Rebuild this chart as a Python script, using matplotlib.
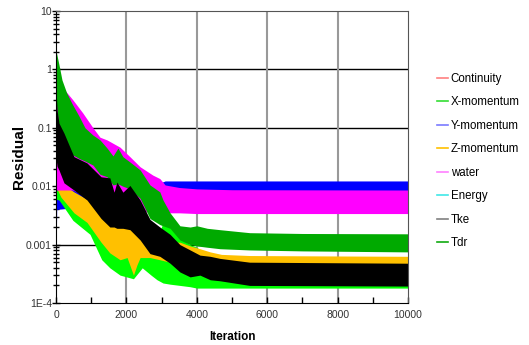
import matplotlib
matplotlib.use('Agg')
import matplotlib.pyplot as plt
from matplotlib.lines import Line2D
from matplotlib.ticker import FixedLocator, FixedFormatter, NullFormatter

# residual bands: iteration, lower and upper envelope
y_it = [0, 20, 2900, 3100, 10000]
y_lo = [0.0005, 0.004, 0.006, 0.0075, 0.0075]
y_hi = [0.02, 0.009, 0.011, 0.0123, 0.0123]

x_it = [0, 85, 480, 966, 1300, 1530, 1820, 2200, 2450, 2700, 2870, 3040,
        3240, 3520, 3810, 4000, 4500, 5500, 10000]
x_lo = [0.006, 0.0058, 0.0026, 0.0015, 0.00055, 0.0004, 0.0003, 0.00026,
        0.0004, 0.0003, 0.00025, 0.00022, 0.00021, 0.0002, 0.00019, 0.00018,
        0.00018, 0.00018, 0.00018]
x_hi = [0.009, 0.008, 0.005, 0.003, 0.0018, 0.0012, 0.0009, 0.0008, 0.0007,
        0.00075, 0.0012, 0.0024, 0.0021, 0.0013, 0.001, 0.0009, 0.0005,
        0.0004, 0.0004]

z_it = [0, 140, 510, 880, 1280, 1530, 1820, 2020, 2200, 2300, 2390, 2670,
        2950, 3240, 3520, 3810, 4090, 4380, 4700, 5500, 10000]
z_lo = [0.0097, 0.0065, 0.0035, 0.0024, 0.0011, 0.00072, 0.00055, 0.0006,
        0.0003, 0.00045, 0.0006, 0.0006, 0.00055, 0.0005, 0.00045, 0.00045,
        0.00045, 0.00045, 0.00045, 0.00045, 0.00045]
z_hi = [0.012, 0.0114, 0.008, 0.006, 0.004, 0.003, 0.0025, 0.0022, 0.0018,
        0.0016, 0.0014, 0.0011, 0.0011, 0.0011, 0.0011, 0.00095, 0.00085,
        0.00075, 0.00068, 0.00065, 0.00063]

w_it = [0, 200, 480, 760, 1050, 1250, 1450, 1820, 2100, 2390, 2750, 2950,
        3100, 3500, 4000, 5000, 10000]
w_lo = [0.0086, 0.0086, 0.0086, 0.007, 0.006, 0.0055, 0.005, 0.0045, 0.004,
        0.0037, 0.0036, 0.0035, 0.0035, 0.0035, 0.0034, 0.0034, 0.0034]
w_hi = [0.45, 0.48, 0.3, 0.18, 0.1, 0.069, 0.062, 0.0465, 0.032, 0.0215,
        0.0155, 0.0135, 0.0105, 0.0095, 0.009, 0.0087, 0.0086]

tdr_it = [0, 85, 170, 300, 455, 650, 824, 1050, 1250, 1450, 1620, 1760, 1900,
          2100, 2390, 2670, 2950, 3040, 3240, 3520, 3810, 4000, 4300, 4660,
          5500, 7000, 10000]
tdr_lo = [0.3, 0.1, 0.06, 0.045, 0.035, 0.03, 0.027, 0.023, 0.016, 0.0145,
          0.0105, 0.011, 0.01, 0.009, 0.0062, 0.0028, 0.0022, 0.0021, 0.0019,
          0.0012, 0.001, 0.00095, 0.0009, 0.00085, 0.00081, 0.00078, 0.00075]
tdr_hi = [2.1, 1.2, 0.66, 0.4, 0.26, 0.16, 0.1, 0.075, 0.062, 0.045, 0.033,
          0.045, 0.032, 0.026, 0.019, 0.0105, 0.008, 0.0058, 0.0035, 0.0021,
          0.002, 0.0021, 0.0019, 0.0018, 0.0016, 0.00155, 0.00153]

tke_it = [0, 30, 85, 227, 510, 880, 1280, 1530, 1650, 1730, 1900, 2100, 2390,
          2670, 2950, 3240, 3520, 3810, 4090, 4380, 4660, 5500, 10000]
tke_lo = [0.03, 0.022, 0.0189, 0.0114, 0.0086, 0.0058, 0.0028, 0.002, 0.002,
          0.0019, 0.0019, 0.0018, 0.0012, 0.0007, 0.00063, 0.00048, 0.00034,
          0.00028, 0.0003, 0.00025, 0.00024, 0.0002, 0.000195]
tke_hi = [0.5, 0.2, 0.12, 0.081, 0.032, 0.025, 0.0145, 0.0139, 0.0079,
          0.0118, 0.0079, 0.0103, 0.0058, 0.0027, 0.002, 0.0015, 0.001,
          0.00081, 0.00066, 0.00063, 0.00058, 0.0005, 0.00048]

legend_labels = ['Continuity', 'X-momentum', 'Y-momentum', 'Z-momentum',
                 'water', 'Energy', 'Tke', 'Tdr']
legend_colors = ['#ff8080', '#33dd33', '#7a7aff', '#ffc000', '#ff80ff',
                 '#40e8e8', '#808080', '#11aa11']

x_ticks = [0, 2000, 4000, 6000, 8000, 10000]
x_labels = ['0', '2000', '4000', '6000', '8000', '10000']
y_ticks = [10, 1, 0.1, 0.01, 0.001, 0.0001]
y_labels = ['10', '1', '0.1', '0.01', '0.001', '1E-4']

sans = ['Liberation Sans', 'DejaVu Sans']

fig = plt.figure(figsize=(5.29, 3.45), dpi=100)
ax = fig.add_axes([56 / 529, 1 - 303 / 345, 352 / 529, 292 / 345])

ax.fill_between(y_it, y_lo, y_hi, color='#0000ff', lw=0)
ax.fill_between(x_it, x_lo, x_hi, color='#00ff00', lw=0)
ax.fill_between(z_it, z_lo, z_hi, color='#ffc000', lw=0)
ax.fill_between(w_it, w_lo, w_hi, color='#ff00ff', lw=0)
ax.fill_between(tdr_it, tdr_lo, tdr_hi, color='#00aa00', lw=0)
ax.fill_between(tke_it, tke_lo, tke_hi, color='#000000', lw=0)

ax.set_yscale('log')
ax.set_xlim(0, 10000)
ax.set_ylim(1e-4, 10)
ax.set_axisbelow(True)

for v in [1, 0.1, 0.01, 0.001]:
    ax.axhline(v, color='black', lw=1, zorder=0)
for v in [2000, 4000, 6000, 8000]:
    ax.axvline(v, color='#999999', lw=1.5, zorder=0)

ax.yaxis.set_major_locator(FixedLocator(y_ticks))
ax.yaxis.set_major_formatter(FixedFormatter(y_labels))
minor = [m * 10.0 ** e for e in range(-4, 1) for m in range(2, 10)]
ax.yaxis.set_minor_locator(FixedLocator(minor))
ax.yaxis.set_minor_formatter(NullFormatter())
ax.xaxis.set_major_locator(FixedLocator(x_ticks))
ax.xaxis.set_major_formatter(FixedFormatter(x_labels))
ax.xaxis.set_minor_locator(FixedLocator([1000, 3000, 5000, 7000, 9000]))

ax.tick_params(axis='y', which='major', direction='inout', length=6,
               width=1, color='black', labelsize=7.5, labelcolor='#333333', pad=0)
ax.tick_params(axis='y', which='minor', direction='inout', length=4,
               width=1, color='black')
ax.tick_params(axis='x', which='major', direction='in', length=4,
               width=1, color='black', labelsize=7.5, labelcolor='#333333', pad=5)
ax.tick_params(axis='x', which='minor', direction='in', length=4,
               width=1, color='black')
for lab in ax.get_xticklabels() + ax.get_yticklabels():
    lab.set_family(sans)

ax.spines['left'].set_color('black')
ax.spines['bottom'].set_color('black')
ax.spines['top'].set_color('#555555')
ax.spines['right'].set_color('#555555')

ax.set_xlabel('Iteration', fontsize=8.5, fontweight='bold', family=sans)
ax.set_ylabel('Residual', fontsize=11, fontweight='bold', family=sans)
ax.xaxis.set_label_coords(0.5, -0.095)
ax.yaxis.set_label_coords(-0.085, 0.5)

handles = [Line2D([], [], color=c, lw=1.2) for c in legend_colors]
fig.legend(handles, legend_labels, loc='upper left',
           bbox_to_anchor=(431 / 529, 1 - 67 / 345), frameon=False,
           borderpad=0, handlelength=0.95, handletextpad=0.26,
           labelspacing=1.0, prop={'family': sans, 'size': 8.3})

fig.savefig('out.png', dpi=100)
